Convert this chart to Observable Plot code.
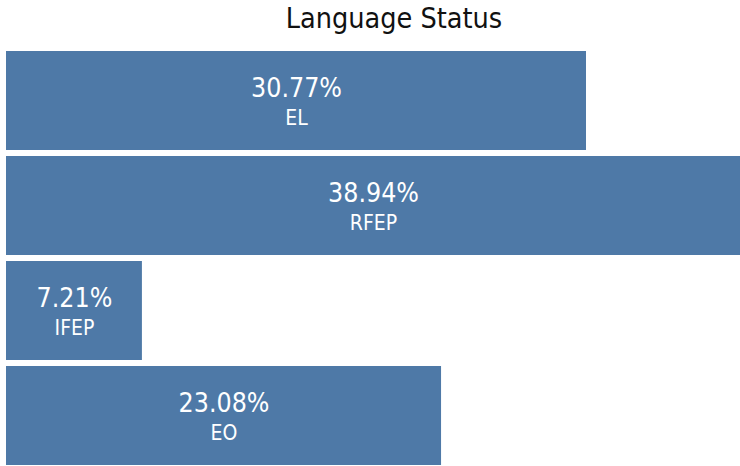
<!DOCTYPE html>
<html>
<head>
<meta charset="utf-8">
<script src="https://cdn.jsdelivr.net/npm/d3@7"></script>
<script src="https://cdn.jsdelivr.net/npm/@observablehq/plot@0.6"></script>
<style>
  html, body { margin: 0; padding: 0; background: #fff; }
  #title { height: 48px; box-sizing: border-box; padding-top: 5px; padding-left: 48px; width: 740px;
    font-family: "DejaVu Sans Condensed", "DejaVu Sans", sans-serif; font-size: 28.5px; line-height: 1; text-align: center; color: #111; }
  #chart svg { display: block; }
</style>
</head>
<body>
<div id="title">Language Status</div>
<div id="chart"></div>
<script>
const categories = ["EL", "RFEP", "IFEP", "EO"];
const percentages = [30.77, 38.94, 7.21, 23.08];

const data = categories.map((c, i) => ({category: c, value: percentages[i]}));
const fontFamily = "'DejaVu Sans Condensed', 'DejaVu Sans', sans-serif";

const chart = Plot.plot({
  width: 740,
  height: 418,
  marginTop: 1.5,
  marginBottom: 0,
  marginLeft: 6,
  marginRight: 0,
  style: {fontFamily, background: "#fff"},
  x: {domain: [0, d3.max(percentages)], axis: null},
  y: {domain: categories, axis: null, paddingInner: 0.058, paddingOuter: 0},
  marks: [
    Plot.barX(data, {x: "value", y: "category", fill: "#4e79a7"}),
    Plot.text(data, {
      x: d => d.value / 2, y: "category",
      text: d => d.value.toFixed(2) + "%",
      fill: "white", fontSize: 26.5, lineAnchor: "bottom", dy: -4
    }),
    Plot.text(data, {
      x: d => d.value / 2, y: "category",
      text: "category",
      fill: "white", fontSize: 21, lineAnchor: "bottom", dy: 24.4
    })
  ]
});
document.getElementById("chart").appendChild(chart);
</script>
</body>
</html>
